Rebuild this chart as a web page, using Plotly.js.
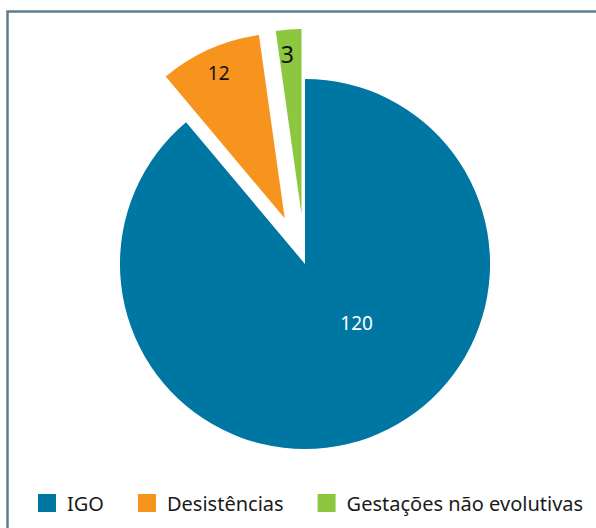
<!DOCTYPE html>
<html>
<head>
<meta charset="utf-8">
<script src="https://cdn.plot.ly/plotly-3.0.1.min.js"></script>
<style>
html,body{margin:0;padding:0;background:#fff;}
#chart{width:596px;height:528px;}
</style>
</head>
<body>
<div id="chart"></div>
<script>
var categories = ["IGO", "Desistências", "Gestações não evolutivas"];
var values = [120, 12, 3];
var sliceColors = ["#0077a3", "#f7941d", "#8dc63f"];
var textColors = ["#ffffff", "#111111", "#111111"];
var pulls = [0, 0.27, 0.27];

var W = 596, H = 528;
var trace = {
  type: "pie",
  labels: categories,
  values: values,
  sort: false,
  direction: "clockwise",
  rotation: 0,
  pull: pulls,
  marker: {colors: sliceColors, line: {width: 0}},
  textinfo: "value",
  textposition: "inside",
  insidetextorientation: "horizontal",
  textfont: {family: "Noto Sans, sans-serif", size: [19, 19, 23], color: textColors},
  hoverinfo: "label+value",
  domain: {x: [70 / W, 540 / W], y: [1 - 499 / H, 1 - 29 / H]}
};

var layout = {
  width: W, height: H,
  margin: {l: 0, r: 0, t: 0, b: 0},
  paper_bgcolor: "#ffffff",
  showlegend: true,
  legend: {
    orientation: "h",
    x: 27 / W, xanchor: "left",
    y: 1 - 503 / H, yanchor: "middle",
    bgcolor: "rgba(0,0,0,0)",
    font: {family: "Noto Sans, sans-serif", size: 20, color: "#1a1a1a"},
    itemclick: false, itemdoubleclick: false,
    traceorder: "normal"
  },
  shapes: [{
    type: "rect", xref: "paper", yref: "paper",
    x0: 7.5 / W, x1: 1.2, y0: -0.2, y1: 1 - 11.5 / H,
    line: {color: "#5d7c90", width: 2.5}, fillcolor: "rgba(0,0,0,0)", layer: "below"
  }]
};

Plotly.newPlot("chart", [trace], layout, {staticPlot: true, displayModeBar: false}).then(function () {
  // larger legend swatches
  document.querySelectorAll(".legend .legendpoints path").forEach(function (p) {
    p.setAttribute("d", "M9,9H-9V-9H9Z");
  });
  // no clipping of the widened legend
  document.querySelectorAll(".legend [clip-path]").forEach(function (el) {
    el.removeAttribute("clip-path");
  });
  // wider spacing between legend entries
  var items = document.querySelectorAll(".legend .traces");
  var x = null;
  items.forEach(function (g) {
    var tr = g.getAttribute("transform") || "";
    var m = tr.match(/translate\(([-\d.]+)[ ,]+([-\d.]+)\)/);
    if (!m) return;
    var y = parseFloat(m[2]);
    if (x === null) x = parseFloat(m[1]);
    g.setAttribute("transform", "translate(" + x + "," + y + ")");
    var t = g.querySelector("text.legendtext");
    var tw = t ? t.getBBox().width : 0;
    x = x + 40 + tw + 23;
  });
  // slice label tweaks: full size for the small slice, small nudges
  var nudges = [[20, -28], [-7, -13], [-2, 15]];
  var texts = document.querySelectorAll(".slice text.slicetext");
  texts.forEach(function (t, i) {
    var tr = t.getAttribute("transform") || "";
    if (i === 2) tr = tr.replace(/scale\([^)]*\)/, "");
    var n = nudges[i] || [0, 0];
    t.setAttribute("transform", "translate(" + n[0] + "," + n[1] + ")" + tr);
  });
});
</script>
</body>
</html>
